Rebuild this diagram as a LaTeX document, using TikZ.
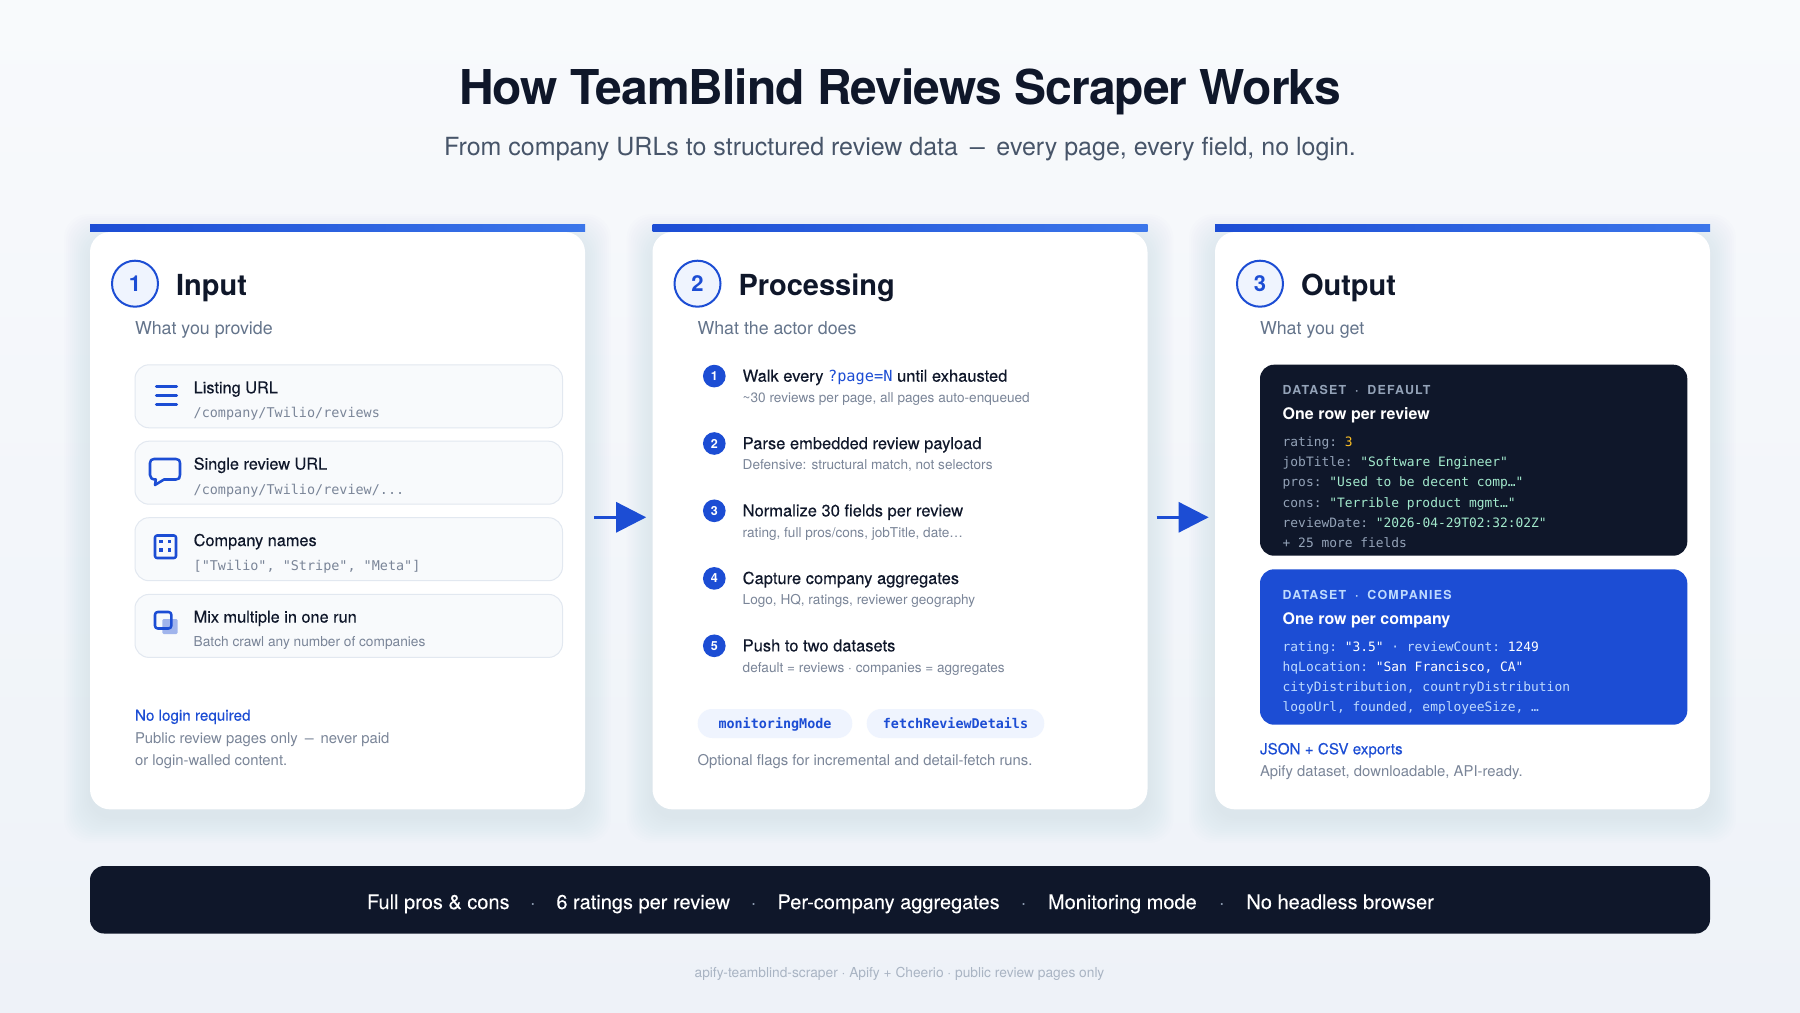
\documentclass[tikz,border=0pt]{standalone}
\usepackage{fontspec}
\setmainfont{TeX Gyre Heros}
\setmonofont{DejaVu Sans Mono}
\newfontfamily\medfont[FakeBold=0.2]{TeX Gyre Heros}
\newfontfamily\barfont[FakeBold=0.1]{TeX Gyre Heros}
\newfontfamily\headfont[LetterSpace=-2]{TeX Gyre Heros}
\newfontfamily\capsfont[LetterSpace=10,WordSpace=1.9]{TeX Gyre Heros}
\usetikzlibrary{arrows.meta}
\definecolor{ink}{HTML}{0F172A}
\definecolor{blue}{HTML}{1C4DD4}
\definecolor{barlight}{HTML}{3B76EA}
\definecolor{slate}{HTML}{64748B}
\definecolor{subgrey}{HTML}{475569}
\definecolor{softgrey}{HTML}{7A8598}
\definecolor{keygrey}{HTML}{94A3B8}
\definecolor{mint}{HTML}{A3EACD}
\definecolor{amber}{HTML}{FBBF24}
\definecolor{pale}{HTML}{BFDBFE}
\definecolor{ringfill}{HTML}{EFF4FE}
\definecolor{itemfill}{HTML}{F8FAFC}
\definecolor{itemline}{HTML}{E2E8F0}
\definecolor{footgrey}{HTML}{A9B4C3}
\definecolor{bgtop}{HTML}{F8FAFC}
\definecolor{bgbottom}{HTML}{EEF2F8}
\newcommand{\fs}[1]{\pgfmathsetlengthmacro\fsz{#1*0.75}\fontsize{\fsz}{\fsz}\selectfont}
\newcommand{\kv}[2]{{\color{keygrey}#1}{\color{mint}#2}}
\newcommand{\kw}[2]{{\color{pale}#1}{\color{white}#2}}
\newcommand{\emd}{\hspace{.19em}\scalebox{.6}[1]{—}\hspace{.19em}}
\tikzset{
	txt/.style={inner sep=0pt,outer sep=0pt,anchor=base west},
	cardbox/.style={fill=white,rounded corners=15pt,minimum width=371.25pt,minimum height=433pt,inner sep=0pt,outer sep=0pt},
	cardtitle/.style={txt,text=ink,font=\fs{29}\bfseries},
	cardsub/.style={txt,text=slate,font=\fs{17.8}},
	stepring/.style={circle,draw=blue,fill=ringfill,line width=1.5pt,minimum size=34.5pt,inner sep=0pt,text=blue,font=\fs{22}\bfseries},
	itembox/.style={fill=itemfill,draw=itemline,line width=0.75pt,rounded corners=10.5pt},
	itemtitle/.style={txt,text=ink,font=\medfont\fs{16.3}},
	itemcode/.style={txt,text=softgrey,font=\ttfamily\fs{13.45}},
	itemnote/.style={txt,text=softgrey,font=\fs{13.7}},
	icon/.style={draw=blue,line width=1.9pt,line join=round},
	numdot/.style={circle,fill=blue,minimum size=17pt,inner sep=0pt,text=white,font=\fs{12.5}\bfseries},
	steptitle/.style={txt,text=ink,font=\medfont\fs{16.5}},
	stepnote/.style={txt,text=softgrey,font=\fs{13.6}},
	pillbox/.style={fill=ringfill,rounded corners=10.8pt},
	pilltext/.style={inner sep=0pt,anchor=base,text=blue,font=\ttfamily\bfseries\fs{13.4}},
	linkhead/.style={txt,text=blue,font=\medfont\fs{15.2}},
	bodynote/.style={txt,text=softgrey,font=\fs{14.85}},
	darkbox/.style={rounded corners=10.5pt},
	dscaps/.style={txt,font=\capsfont\bfseries\fs{12.4}},
	dshead/.style={txt,text=white,font=\fs{16}\bfseries},
	dscode/.style={txt,font=\ttfamily\fs{12.9}},
	flowarrow/.style={draw=blue,line width=2.25pt,-{Triangle[length=22.5pt,width=22.5pt]},shorten <=6.75pt,shorten >=4.75pt},
	barlabel/.style={txt,text=white,font=\barfont\fs{20}},
	bardot/.style={inner sep=0pt,anchor=base,text=keygrey,font=\fs{20}}
}
\begin{document}
\begin{tikzpicture}[x=0.75pt,y=0.75pt,yscale=-1]
	\path[use as bounding box] (0,0) rectangle (1800,1013);
	%Background
	\shade[top color=bgtop,bottom color=bgbottom] (0,0) rectangle (1800,1013);

	% Heading
	\node[inner sep=0pt,anchor=base,text=ink,font=\headfont\fs{48}\bfseries] (heading) at (900,105) {How TeamBlind Reviews Scraper Works};
	\node[inner sep=0pt,anchor=base,text=subgrey,font=\fs{25}] (subheading) at (900,156) {From company URLs to structured review data \emd{} every page, every field, no login.};

	%Shape: Cards
	\foreach \n/\cx/\ttl/\sub in {1/90/Input/What you provide,2/652.5/Processing/What the actor does,3/1215/Output/What you get} {
		\foreach \s in {2,4,...,26}
			\fill[slate,opacity=0.006,rounded corners=18pt] ({\cx-\s},{240-\s}) rectangle ({\cx+495+\s},{817+\s});
		\node[cardbox] (card\n) at ({\cx+247.5},520.7) {};
		\shade[left color=blue,right color=barlight] (\cx,225) rectangle ({\cx+495},232);
		\node[stepring] (ring\n) at ({\cx+45},283.7) {\n};
		\node[cardtitle] (title\n) at ({\cx+86},295) {\ttl};
		\node[cardsub] (sub\n) at ({\cx+45},334) {\sub};
	}

	%Flow arrows between the cards
	\coordinate (flow) at (0,517.3);
	\draw[flowarrow] (card1.east |- flow) -- (card2.west |- flow);
	\draw[flowarrow] (card2.east |- flow) -- (card3.west |- flow);

	%Shape: Input items
	\foreach \i/\y in {0/364.8,1/441.2,2/517.7,3/594.4}
		\draw[itembox] (135,\y) rectangle (562.5,{\y+63});
	% Text Node
	\node[itemtitle] (item1) at (193.7,393.3) {Listing URL};
	\node[itemcode] (code1) at (193.7,417.3) {/company/Twilio/reviews};
	\node[itemtitle] (item2) at (193.7,469.6) {Single review URL};
	\node[itemcode] (code2) at (193.7,494) {/company/Twilio/review/...};
	\node[itemtitle] (item3) at (193.7,546) {Company names};
	\node[itemcode] (code3) at (193.7,570.5) {["Twilio", "Stripe", "Meta"]};
	\node[itemtitle] (item4) at (193.7,622.6) {Mix multiple in one run};
	\node[itemnote] (code4) at (193.7,646.7) {Batch crawl any number of companies};

	%Icon: lines
	\foreach \y in {386,395.3,404.7}
		\draw[icon,line width=2.25pt,line cap=round] (156.3,\y) -- (176.7,\y);
	%Icon: speech bubble
	\draw[icon] (154,459) -- (176,459) .. controls (179,459) and (180,460.5) .. (180,463) -- (180,475) .. controls (180,478) and (179,479.5) .. (176,479.5) -- (164,479.5) -- (155,485) -- (155.8,479.5) .. controls (152,479.5) and (150,478) .. (150,475) -- (150,463) .. controls (150,460.5) and (151.5,459) .. (154,459) -- cycle;
	%Icon: grid
	\draw[icon,rounded corners=1.5pt] (155,535.5) rectangle (176,558);
	\foreach \px/\py in {161/541.7,169.5/541.7,161/550,169.5/550}
		\fill[blue] ({\px-1.6},{\py-1.6}) rectangle ({\px+1.6},{\py+1.6});
	%Icon: overlapping squares
	\fill[blue,opacity=0.4,rounded corners=1pt] (162.3,619) rectangle (177.7,634);
	\draw[icon,rounded corners=2pt] (155,612) rectangle (171.3,628.5);

	% Text Node
	\node[linkhead] (nologin) at (135,720.7) {No login required};
	\node[bodynote] (nologin1) at (135,743.3) {Public review pages only \emd{} never paid};
	\node[bodynote] (nologin2) at (135,765.5) {or login-walled content.};

	%Processing steps
	\foreach \n/\y/\ttl/\note in {
		1/381.7/{Walk every {\ttfamily\fs{15.3}\color{blue}?page=N} until exhausted}/{\textasciitilde30 reviews per page, all pages auto-enqueued},
		2/449.1/{Parse embedded review payload}/{Defensive: structural match, not selectors},
		3/516.4/{Normalize 30 fields per review}/{rating, full pros/cons, jobTitle, date…},
		4/584/{Capture company aggregates}/{Logo, HQ, ratings, reviewer geography},
		5/651.4/{Push to two datasets}/{default = reviews · companies = aggregates}} {
		\node[numdot] (num\n) at (714.3,{\y-5.6}) {\n};
		\node[steptitle] (step\n) at (742.7,\y) {\ttl};
		\node[stepnote] (note\n) at (742.7,{\y+20.7}) {\note};
	}

	%Shape: Flag pills
	\fill[pillbox] (697.7,709) rectangle (852.3,738);
	\fill[pillbox] (866.7,709) rectangle (1044.3,738);
	\node[pilltext] (pill1) at (775,728.7) {monitoringMode};
	\node[pilltext] (pill2) at (955.5,728.7) {fetchReviewDetails};
	\node[bodynote] (flagsnote) at (697.5,765.7) {Optional flags for incremental and detail-fetch runs.};

	%Shape: Dataset boxes
	\fill[ink,darkbox] (1260,364.7) rectangle (1687.3,555.7);
	\fill[blue,darkbox] (1260,569.3) rectangle (1687.3,724.7);

	% Text Node
	\node[dscaps,text=keygrey] (dsname1) at (1282.7,394.3) {DATASET · DEFAULT};
	\node[dshead] (dshead1) at (1282.7,419) {One row per review};
	\node[dscode] (row1) at (1282.7,446.3) {{\color{keygrey}rating: }{\color{amber}3}};
	\node[dscode] (row2) at (1282.7,466.5) {\kv{jobTitle: }{"Software Engineer"}};
	\node[dscode] (row3) at (1282.7,486.7) {\kv{pros: }{"Used to be decent comp…"}};
	\node[dscode] (row4) at (1282.7,507) {\kv{cons: }{"Terrible product mgmt…"}};
	\node[dscode] (row5) at (1282.7,527) {\kv{reviewDate: }{"2026-04-29T02:32:02Z"}};
	\node[dscode,text=keygrey] (row6) at (1282.7,547.3) {+ 25 more fields};

	\node[dscaps,text=pale] (dsname2) at (1282.7,599) {DATASET · COMPANIES};
	\node[dshead] (dshead2) at (1282.7,624) {One row per company};
	\node[dscode] (comp1) at (1282.7,651) {\kw{rating: }{"3.5"}\kw{~· reviewCount: }{1249}};
	\node[dscode] (comp2) at (1282.7,671.3) {\kw{hqLocation: }{"San Francisco, CA"}};
	\node[dscode,text=pale] (comp3) at (1282.7,691.5) {cityDistribution, countryDistribution};
	\node[dscode,text=pale] (comp4) at (1282.7,711.7) {logoUrl, founded, employeeSize, …};

	\node[linkhead] (exports) at (1260,754.3) {JSON + CSV exports};
	\node[bodynote] (exportsnote) at (1260,776.7) {Apify dataset, downloadable, API-ready.};

	%Shape: Bottom strip
	\fill[ink,rounded corners=10.5pt] (90,866) rectangle (1710,933.5);
	\node[barlabel] (bar1) at (367,909) {Full pros \& cons};
	\node[bardot] (dot1) at (533,909) {·};
	\node[barlabel] (bar2) at (556.4,909) {6 ratings per review};
	\node[bardot] (dot2) at (753.6,909) {·};
	\node[barlabel] (bar3) at (777.5,909) {Per-company aggregates};
	\node[bardot] (dot3) at (1023.6,909) {·};
	\node[barlabel] (bar4) at (1048,909) {Monitoring mode};
	\node[bardot] (dot4) at (1222,909) {·};
	\node[barlabel] (bar5) at (1246.4,909) {No headless browser};

	% Text Node
	\node[inner sep=0pt,anchor=base,text=footgrey,font=\fs{13.75}] (footer) at (899.5,977) {apify-teamblind-scraper · Apify + Cheerio · public review pages only};
\end{tikzpicture}
\end{document}
